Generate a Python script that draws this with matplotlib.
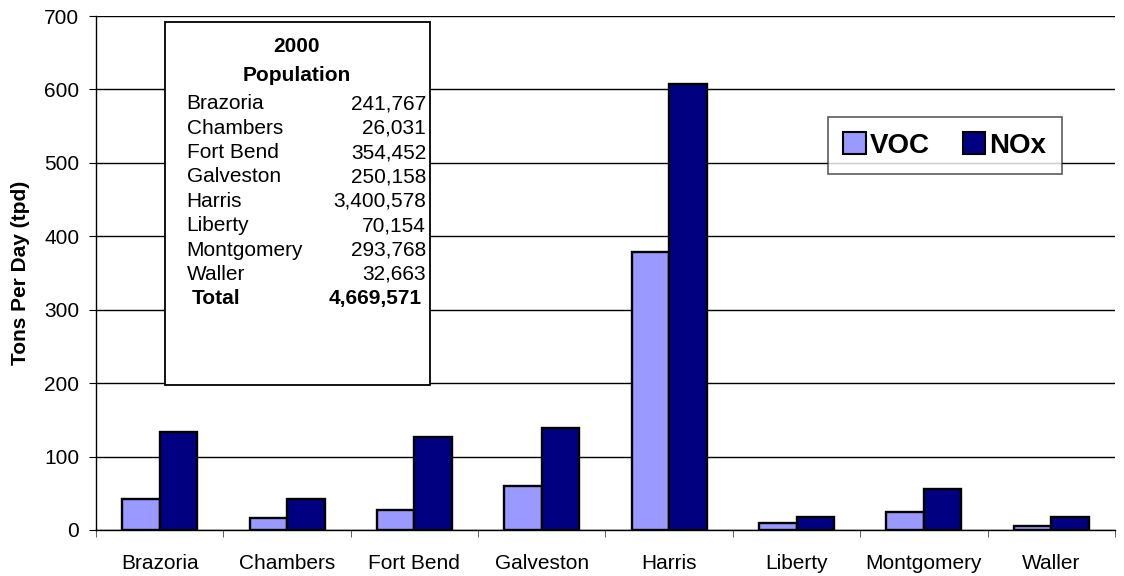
import numpy as np
import matplotlib.pyplot as plt
from matplotlib.patches import Rectangle

plt.rcParams['font.family'] = ['Liberation Sans', 'DejaVu Sans']

# emissions by county (tons per day)
counties = ['Brazoria', 'Chambers', 'Fort Bend', 'Galveston', 'Harris',
            'Liberty', 'Montgomery', 'Waller']
voc = [42, 16, 27, 60, 379, 10, 24, 5]
nox = [134, 42, 127, 139, 607, 18, 56, 18]

# 2000 population table
pop_names = ['Brazoria', 'Chambers', 'Fort Bend', 'Galveston', 'Harris',
             'Liberty', 'Montgomery', 'Waller']
pop_values = ['241,767', '26,031', '354,452', '250,158', '3,400,578',
              '70,154', '293,768', '32,663']
pop_total = '4,669,571'

FS = 15

fig = plt.figure(figsize=(11.24, 5.76), dpi=100)
ax = fig.add_axes([0.0854, 0.0799, 0.9066, 0.8923])

x = np.arange(len(counties))
w = 0.294
ax.bar(x - w / 2, voc, w, color='#9999FF', edgecolor='black', linewidth=1.7,
       label='VOC', zorder=3)
ax.bar(x + w / 2, nox, w, color='#000080', edgecolor='black', linewidth=1.7,
       label='NOx', zorder=3)

ax.set_xlim(-0.5, len(counties) - 0.5)
ax.set_ylim(0, 700)
ax.set_yticks(range(0, 701, 100))
ax.set_xticks(x)
ax.set_xticklabels(counties, fontsize=FS)
ax.set_xticks(np.arange(-0.5, len(counties)), minor=True)
ax.tick_params(axis='x', which='major', length=0, pad=17)
ax.tick_params(axis='x', which='minor', length=5, color='#444444')
ax.tick_params(axis='y', labelsize=FS, length=5, pad=7, direction='out')
ax.yaxis.grid(True, color='black', linewidth=1)
ax.set_axisbelow(True)
for s in ['top', 'right']:
    ax.spines[s].set_visible(False)
ax.spines['left'].set_linewidth(1)
ax.spines['bottom'].set_linewidth(1)
ax.set_ylabel('Tons Per Day (tpd)', fontsize=FS, fontweight='bold', labelpad=10)

# population box
ax.add_patch(Rectangle((0.0677, 0.282), 0.2605, 0.706, transform=ax.transAxes,
                       facecolor='white', edgecolor='black', linewidth=1.3,
                       zorder=4))
ax.text(0.197, 0.9416, '2000', transform=ax.transAxes, ha='center', va='center',
        fontsize=FS, fontweight='bold', zorder=5)
ax.text(0.197, 0.885, 'Population', transform=ax.transAxes, ha='center',
        va='center', fontsize=FS, fontweight='bold', zorder=5)
row_y = 0.829
for name, val in zip(pop_names, pop_values):
    ax.text(0.089, row_y, name, transform=ax.transAxes, ha='left', va='center',
            fontsize=FS, zorder=5)
    ax.text(0.324, row_y, val, transform=ax.transAxes, ha='right', va='center',
            fontsize=FS, zorder=5)
    row_y -= 0.0474
ax.text(0.094, row_y, 'Total', transform=ax.transAxes, ha='left', va='center',
        fontsize=FS, fontweight='bold', zorder=5)
ax.text(0.32, row_y, pop_total, transform=ax.transAxes, ha='right',
        va='center', fontsize=FS, fontweight='bold', zorder=5)

leg = ax.legend(loc='center', bbox_to_anchor=(0.833, 0.748), ncol=2,
                prop={'size': 20, 'weight': 'bold'}, frameon=True, fancybox=False,
                handlelength=0.8, handleheight=0.8, handletextpad=0.15,
                columnspacing=1.2, borderpad=0.55)
leg.get_frame().set_edgecolor('#333333')
leg.get_frame().set_linewidth(1.2)
leg.set_zorder(6)
for h in leg.legend_handles:
    h.set_linewidth(1.5)

fig.savefig('out.png', dpi=100)
